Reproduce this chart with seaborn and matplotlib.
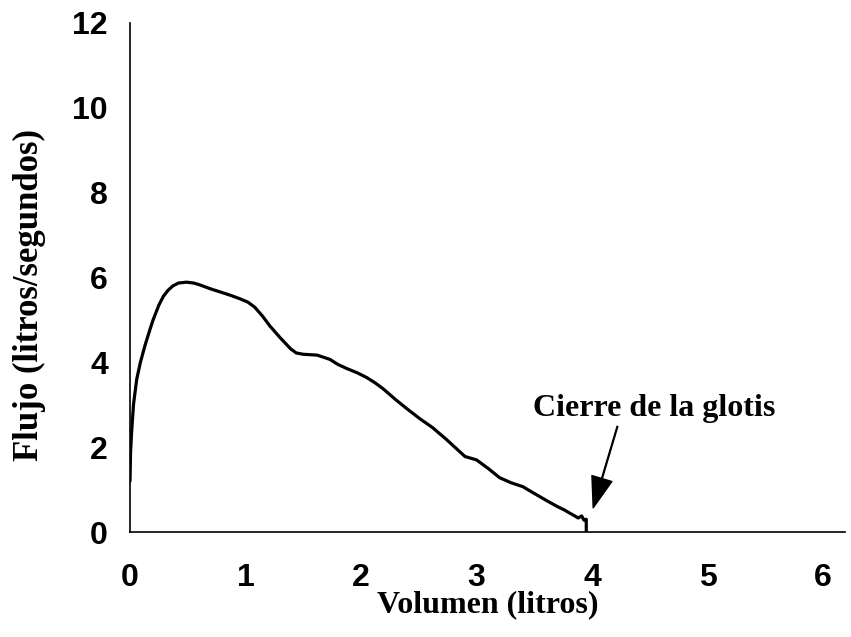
import matplotlib
matplotlib.use("Agg")
import matplotlib.pyplot as plt
import seaborn as sns
import pandas as pd

volumen = [0, 0.005, 0.015, 0.03, 0.058, 0.09, 0.13, 0.17, 0.2, 0.25, 0.29,
           0.33, 0.37, 0.42, 0.49, 0.55, 0.6, 0.7, 0.78, 0.87, 0.95, 1.02,
           1.08, 1.15, 1.21, 1.3, 1.39, 1.44, 1.5, 1.62, 1.73, 1.8, 1.88,
           1.97, 2.05, 2.12, 2.19, 2.3, 2.4, 2.51, 2.62, 2.74, 2.82, 2.9,
           3.0, 3.1, 3.2, 3.3, 3.4, 3.48, 3.55, 3.62, 3.7, 3.76, 3.81, 3.85,
           3.88, 3.91, 3.93, 3.95, 3.95]
flujo = [1.2, 1.9, 2.4, 3.0, 3.6, 4.0, 4.4, 4.75, 5.0, 5.35, 5.56,
         5.7, 5.8, 5.87, 5.89, 5.87, 5.83, 5.73, 5.66, 5.58, 5.5, 5.42,
         5.3, 5.08, 4.86, 4.58, 4.32, 4.22, 4.19, 4.17, 4.07, 3.95, 3.85,
         3.75, 3.64, 3.52, 3.38, 3.12, 2.9, 2.67, 2.46, 2.18, 1.98, 1.78,
         1.7, 1.5, 1.28, 1.16, 1.07, 0.94, 0.83, 0.72, 0.6, 0.52, 0.44, 0.38,
         0.33, 0.38, 0.28, 0.3, 0]
x_ticks = [0, 1, 2, 3, 4, 5, 6]
y_ticks = [0, 2, 4, 6, 8, 10, 12]
annot_text = "Cierre de la glotis"
x_label = "Volumen (litros)"
y_label = "Flujo (litros/segundos)"

df = pd.DataFrame({"Volumen": volumen, "Flujo": flujo})

sns.set_style("white")
plt.rcParams.update({"text.color": "black", "axes.labelcolor": "black",
                     "xtick.color": "black", "ytick.color": "black"})
fig = plt.figure(figsize=(8.51, 6.37), dpi=100)
ax = fig.add_axes([130/851, 1 - 532/637, (845 - 130)/851, (532 - 23)/637])

sns.lineplot(data=df, x="Volumen", y="Flujo", sort=False, estimator=None,
             color="black", linewidth=2.3, ax=ax)
for ln in ax.lines:
    ln.set_solid_joinstyle("round")
    ln.set_solid_capstyle("round")

ax.set_xlim(0, 6.19)
ax.set_ylim(0, 12)
ax.set_xticks(x_ticks)
ax.set_yticks(y_ticks)
ax.set_xticklabels([str(t) for t in x_ticks], family="Liberation Sans",
                   fontweight="bold", fontsize=23)
ax.set_yticklabels([str(t) for t in y_ticks], family="Liberation Sans",
                   fontweight="bold", fontsize=23)
ax.tick_params(axis="x", length=0, pad=22)
ax.tick_params(axis="y", length=0, pad=16)

ax.set_xlabel(x_label, family="Liberation Serif", fontweight="bold",
              fontsize=23, labelpad=-2)
ax.set_ylabel(y_label, family="Liberation Serif", fontweight="bold",
              fontsize=25)
ax.yaxis.set_label_coords(-0.118, 0.465)

for s in ["top", "right"]:
    ax.spines[s].set_visible(False)
for s in ["left", "bottom"]:
    ax.spines[s].set_color("black")
    ax.spines[s].set_linewidth(1.2)

ax.text(4.54, 2.92, annot_text, family="Liberation Serif", fontweight="bold",
        fontsize=23, ha="center", va="center")
ax.annotate("", xy=(4.01, 0.57), xytext=(4.22, 2.49),
            arrowprops=dict(facecolor="black", edgecolor="black", width=0.6,
                            headwidth=15, headlength=22, shrink=0))

fig.savefig("out.png", dpi=100)
